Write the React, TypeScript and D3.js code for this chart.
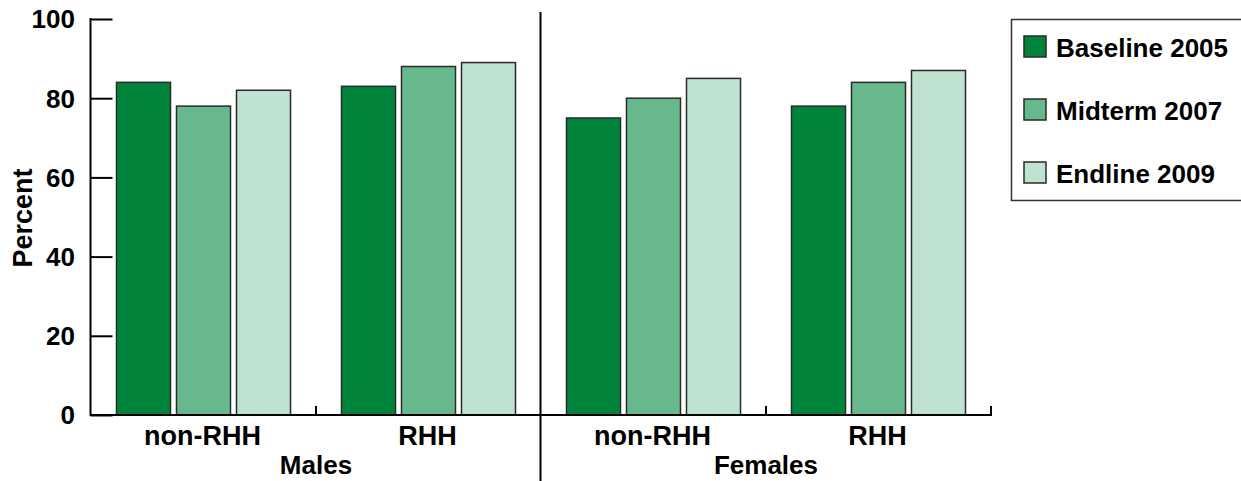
import React, { useEffect, useRef } from 'react';
import * as d3 from 'd3';

const groups = ['Males', 'Females'];
const categories = ['non-RHH', 'RHH', 'non-RHH', 'RHH'];
const seriesNames = ['Baseline 2005', 'Midterm 2007', 'Endline 2009'];
const baseline = [84, 83, 75, 78];
const midterm = [78, 88, 80, 84];
const endline = [82, 89, 85, 87];
const yTicks = [0, 20, 40, 60, 80, 100];

const colors = ['#00843c', '#67b88d', '#c0e3d1'];

const App = () => {
  const svgRef = useRef(null);

  useEffect(() => {
    d3.select(svgRef.current).selectAll('*').remove();

    const W = 1241;
    const H = 481;
    const left = 91;
    const right = 991;
    const top = 19;
    const bottom = 415;
    const font = 'Arial, "Liberation Sans", sans-serif';

    const svg = d3.select(svgRef.current).attr('width', W).attr('height', H);

    // scales
    const x0 = d3.scaleBand().domain(d3.range(categories.length).map(String)).range([left, right]);
    const x1 = d3
      .scaleBand()
      .domain(seriesNames)
      .range([0, x0.bandwidth()])
      .paddingInner(0.1)
      .paddingOuter(0.425);
    const y = d3.scaleLinear().domain([0, 100]).range([bottom, top]);

    const series = [baseline, midterm, endline];

    // bars
    categories.forEach((c, i) => {
      const g = svg.append('g').attr('transform', `translate(${x0(String(i))},0)`);
      seriesNames.forEach((s, j) => {
        const v = series[j][i];
        g.append('rect')
          .attr('x', x1(s))
          .attr('y', y(v))
          .attr('width', x1.bandwidth())
          .attr('height', y(0) - y(v))
          .attr('fill', colors[j])
          .attr('stroke', '#2a2a2a')
          .attr('stroke-width', 1.5);
      });
    });

    // y axis, ticks pointing inward
    const yAxis = svg
      .append('g')
      .attr('transform', `translate(${left - 0.5},0)`)
      .call(d3.axisRight(y).tickValues(yTicks).tickSize(22).tickFormat(() => ''));
    yAxis.select('.domain').remove();
    yAxis.selectAll('line').attr('stroke', '#000').attr('stroke-width', 2);
    svg
      .append('line')
      .attr('x1', left - 0.5)
      .attr('x2', left - 0.5)
      .attr('y1', y(100) - 1)
      .attr('y2', y(0) + 1)
      .attr('stroke', '#000')
      .attr('stroke-width', 2);

    svg
      .append('g')
      .selectAll('text')
      .data(yTicks)
      .enter()
      .append('text')
      .attr('x', 75)
      .attr('y', (d) => y(d))
      .attr('dy', '0.36em')
      .attr('text-anchor', 'end')
      .attr('font-family', font)
      .attr('font-weight', 'bold')
      .attr('font-size', 26)
      .text((d) => d);

    // x axis
    svg
      .append('line')
      .attr('x1', left - 1)
      .attr('x2', right + 1)
      .attr('y1', bottom)
      .attr('y2', bottom)
      .attr('stroke', '#000')
      .attr('stroke-width', 2);

    // small upward ticks at band boundaries
    const bounds = d3.range(1, categories.length + 1).filter((i) => i !== 2);
    svg
      .append('g')
      .selectAll('line')
      .data(bounds)
      .enter()
      .append('line')
      .attr('x1', (i) => left + i * x0.bandwidth())
      .attr('x2', (i) => left + i * x0.bandwidth())
      .attr('y1', bottom)
      .attr('y2', bottom - 9)
      .attr('stroke', '#000')
      .attr('stroke-width', 2);

    // group divider
    const divX = left + 2 * x0.bandwidth() - 0.5;
    svg
      .append('line')
      .attr('x1', divX)
      .attr('x2', divX)
      .attr('y1', 12)
      .attr('y2', H)
      .attr('stroke', '#000')
      .attr('stroke-width', 2);

    // category labels
    svg
      .append('g')
      .selectAll('text')
      .data(categories)
      .enter()
      .append('text')
      .attr('x', (d, i) => x0(String(i)) + x0.bandwidth() / 2 - 1)
      .attr('y', 445)
      .attr('text-anchor', 'middle')
      .attr('font-family', font)
      .attr('font-weight', 'bold')
      .attr('font-size', 27)
      .text((d) => d);

    // group labels
    svg
      .append('g')
      .selectAll('text')
      .data(groups)
      .enter()
      .append('text')
      .attr('x', (d, i) => left + (2 * i + 1) * x0.bandwidth())
      .attr('y', 474)
      .attr('text-anchor', 'middle')
      .attr('font-family', font)
      .attr('font-weight', 'bold')
      .attr('font-size', 26)
      .text((d) => d);

    // y title
    svg
      .append('text')
      .attr('transform', `translate(32,218) rotate(-90)`)
      .attr('text-anchor', 'middle')
      .attr('font-family', font)
      .attr('font-weight', 'bold')
      .attr('font-size', 27)
      .text('Percent');

    // legend
    const ly = d3.scalePoint().domain(seriesNames).range([36, 162]);
    svg
      .append('rect')
      .attr('x', 1011.5)
      .attr('y', 19.5)
      .attr('width', 240)
      .attr('height', 181)
      .attr('fill', '#fff')
      .attr('stroke', '#333')
      .attr('stroke-width', 1.5);

    const leg = svg
      .append('g')
      .selectAll('g')
      .data(seriesNames)
      .enter()
      .append('g')
      .attr('transform', (d) => `translate(0,${ly(d)})`);
    leg
      .append('rect')
      .attr('x', 1024)
      .attr('y', 0)
      .attr('width', 22)
      .attr('height', 21)
      .attr('fill', (d, i) => colors[i])
      .attr('stroke', '#2a2a2a')
      .attr('stroke-width', 1.5);
    leg
      .append('text')
      .attr('x', 1056)
      .attr('y', 21)
      .attr('font-family', font)
      .attr('font-weight', 'bold')
      .attr('font-size', 26)
      .text((d) => d);
  }, []);

  return (
    <div style={{ position: 'absolute', left: 0, top: 0 }}>
      <svg ref={svgRef} style={{ display: 'block' }}></svg>
    </div>
  );
};

export default App;
